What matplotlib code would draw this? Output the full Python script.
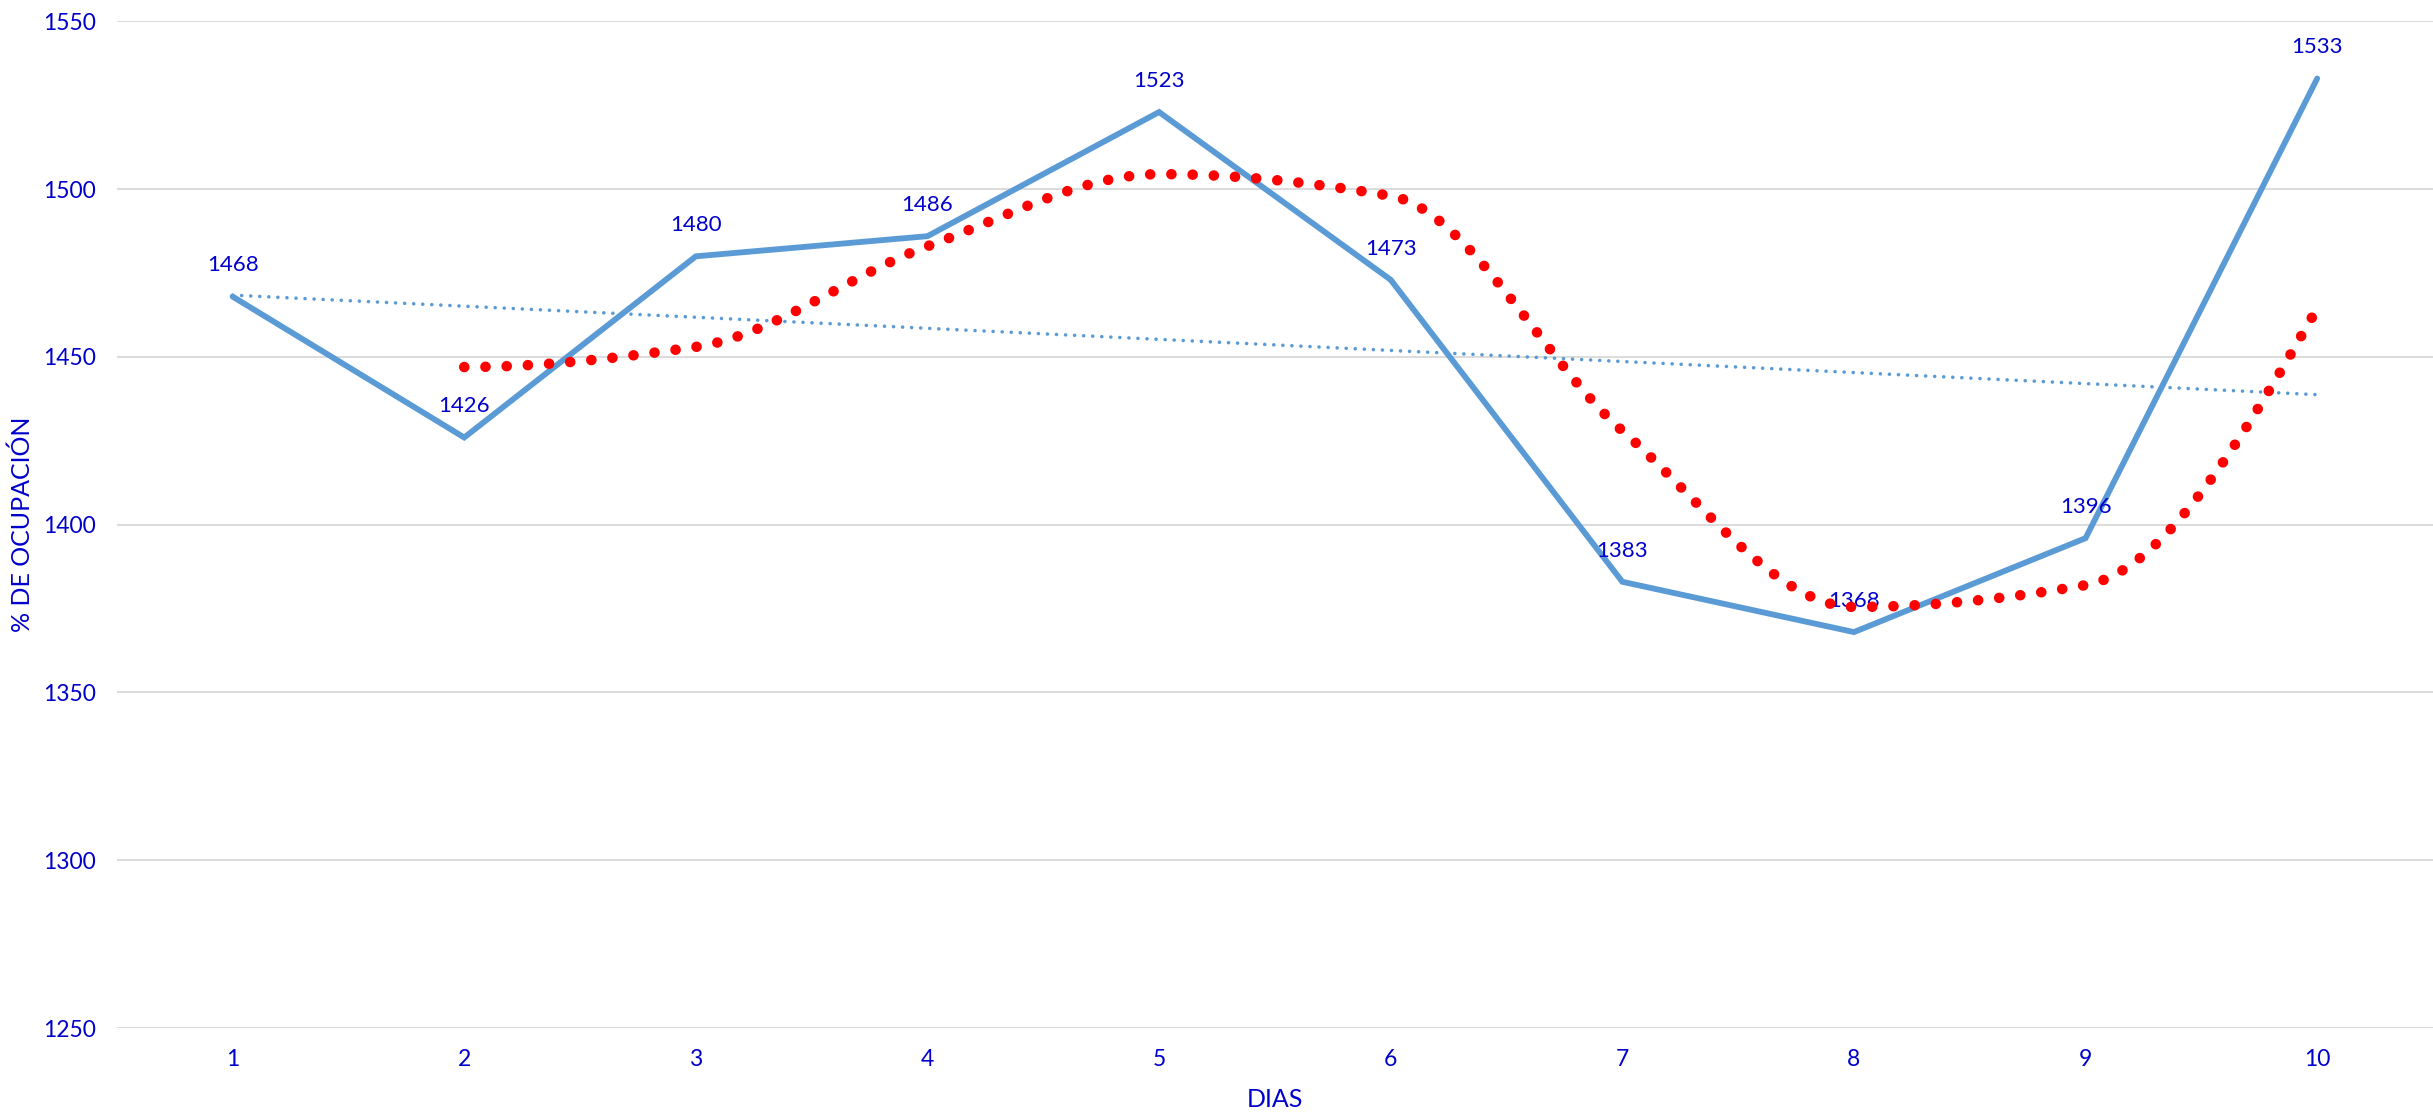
import matplotlib.pyplot as plt
import numpy as np

# datos
dias = [1, 2, 3, 4, 5, 6, 7, 8, 9, 10]
ocupacion = [1468, 1426, 1480, 1486, 1523, 1473, 1383, 1368, 1396, 1533]
y_ticks = [1250, 1300, 1350, 1400, 1450, 1500, 1550]

AZUL = '#5B9BD5'
TEXTO = '#0000CC'


def pendientes(x, y):
	# pendientes monotonas (Fritsch-Carlson), sin sobrepasar los extremos
	h = np.diff(x)
	d = np.diff(y) / h
	m = np.zeros_like(y)
	for k in range(1, len(y) - 1):
		if d[k - 1] * d[k] > 0:
			w1 = 2 * h[k] + h[k - 1]
			w2 = h[k] + 2 * h[k - 1]
			m[k] = (w1 + w2) / (w1 / d[k - 1] + w2 / d[k])

	def borde(h0, h1, d0, d1):
		s = ((2 * h0 + h1) * d0 - h0 * d1) / (h0 + h1)
		if np.sign(s) != np.sign(d0):
			return 0.0
		if np.sign(d0) != np.sign(d1) and abs(s) > abs(3 * d0):
			return 3 * d0
		return s

	m[0] = borde(h[0], h[1], d[0], d[1])
	m[-1] = borde(h[-1], h[-2], d[-1], d[-2])
	return m


def suavizar(x, y, n=50):
	x = np.asarray(x, dtype=float)
	y = np.asarray(y, dtype=float)
	m = pendientes(x, y)
	xs, ys = [], []
	for i in range(len(x) - 1):
		h = x[i + 1] - x[i]
		t = np.linspace(0, 1, n)
		h00 = 2 * t ** 3 - 3 * t ** 2 + 1
		h10 = t ** 3 - 2 * t ** 2 + t
		h01 = -2 * t ** 3 + 3 * t ** 2
		h11 = t ** 3 - t ** 2
		seg = h00 * y[i] + h10 * h * m[i] + h01 * y[i + 1] + h11 * h * m[i + 1]
		xi = x[i] + t * h
		if i > 0:
			seg, xi = seg[1:], xi[1:]
		xs.append(xi)
		ys.append(seg)
	return np.concatenate(xs), np.concatenate(ys)


def main():
	plt.rcParams['font.family'] = ['Lato', 'DejaVu Sans']
	x = np.array(dias)
	y = np.array(ocupacion, dtype=float)

	fig = plt.figure(figsize=(24.33, 11.18), dpi=100)
	ax = fig.add_axes([0.048, 0.0805, 0.952, 0.9003])

	ax.plot(x, y, color=AZUL, lw=4.2, solid_capstyle='round', solid_joinstyle='miter', zorder=3)

	# tendencia lineal
	m, b = np.polyfit(x, y, 1)
	ax.plot(x, m * x + b, color=AZUL, lw=2.6, linestyle=(0, (0.01, 2.5)),
			dash_capstyle='round', zorder=4)

	for xi, yi in zip(x, y):
		ax.annotate(f'{int(yi)}', (xi, yi), xytext=(0, 22.5), textcoords='offset points',
					ha='center', va='center', fontsize=16, color=TEXTO, zorder=5)

	# media movil de 2 periodos
	mx = x[1:]
	my = (y[1:] + y[:-1]) / 2
	sx, sy = suavizar(mx, my)
	ax.plot(sx, sy, color='#FF0000', lw=7.6, linestyle=(0, (0.01, 2.0)),
			dash_capstyle='round', zorder=6)

	ax.set_xlim(0.5, 10.5)
	ax.set_ylim(1250, 1550)
	ax.set_xticks(dias)
	ax.set_yticks(y_ticks)
	ax.tick_params(axis='both', length=0, labelsize=16.5, labelcolor=TEXTO)
	ax.tick_params(axis='y', pad=15)
	ax.tick_params(axis='x', pad=15)
	ax.grid(axis='y', color='#D9D9D9', lw=1.3)
	ax.set_axisbelow(True)
	for s in ax.spines.values():
		s.set_visible(False)

	ax.set_xlabel('DIAS', fontsize=18, color=TEXTO, va='center')
	ax.xaxis.set_label_coords(0.5, -0.0715)
	ax.set_ylabel('% DE OCUPACIÓN', fontsize=18, color=TEXTO, va='center')
	ax.yaxis.set_label_coords(-0.0406, 0.5)

	fig.savefig('out.png', dpi=100)


if __name__ == '__main__':
	main()
